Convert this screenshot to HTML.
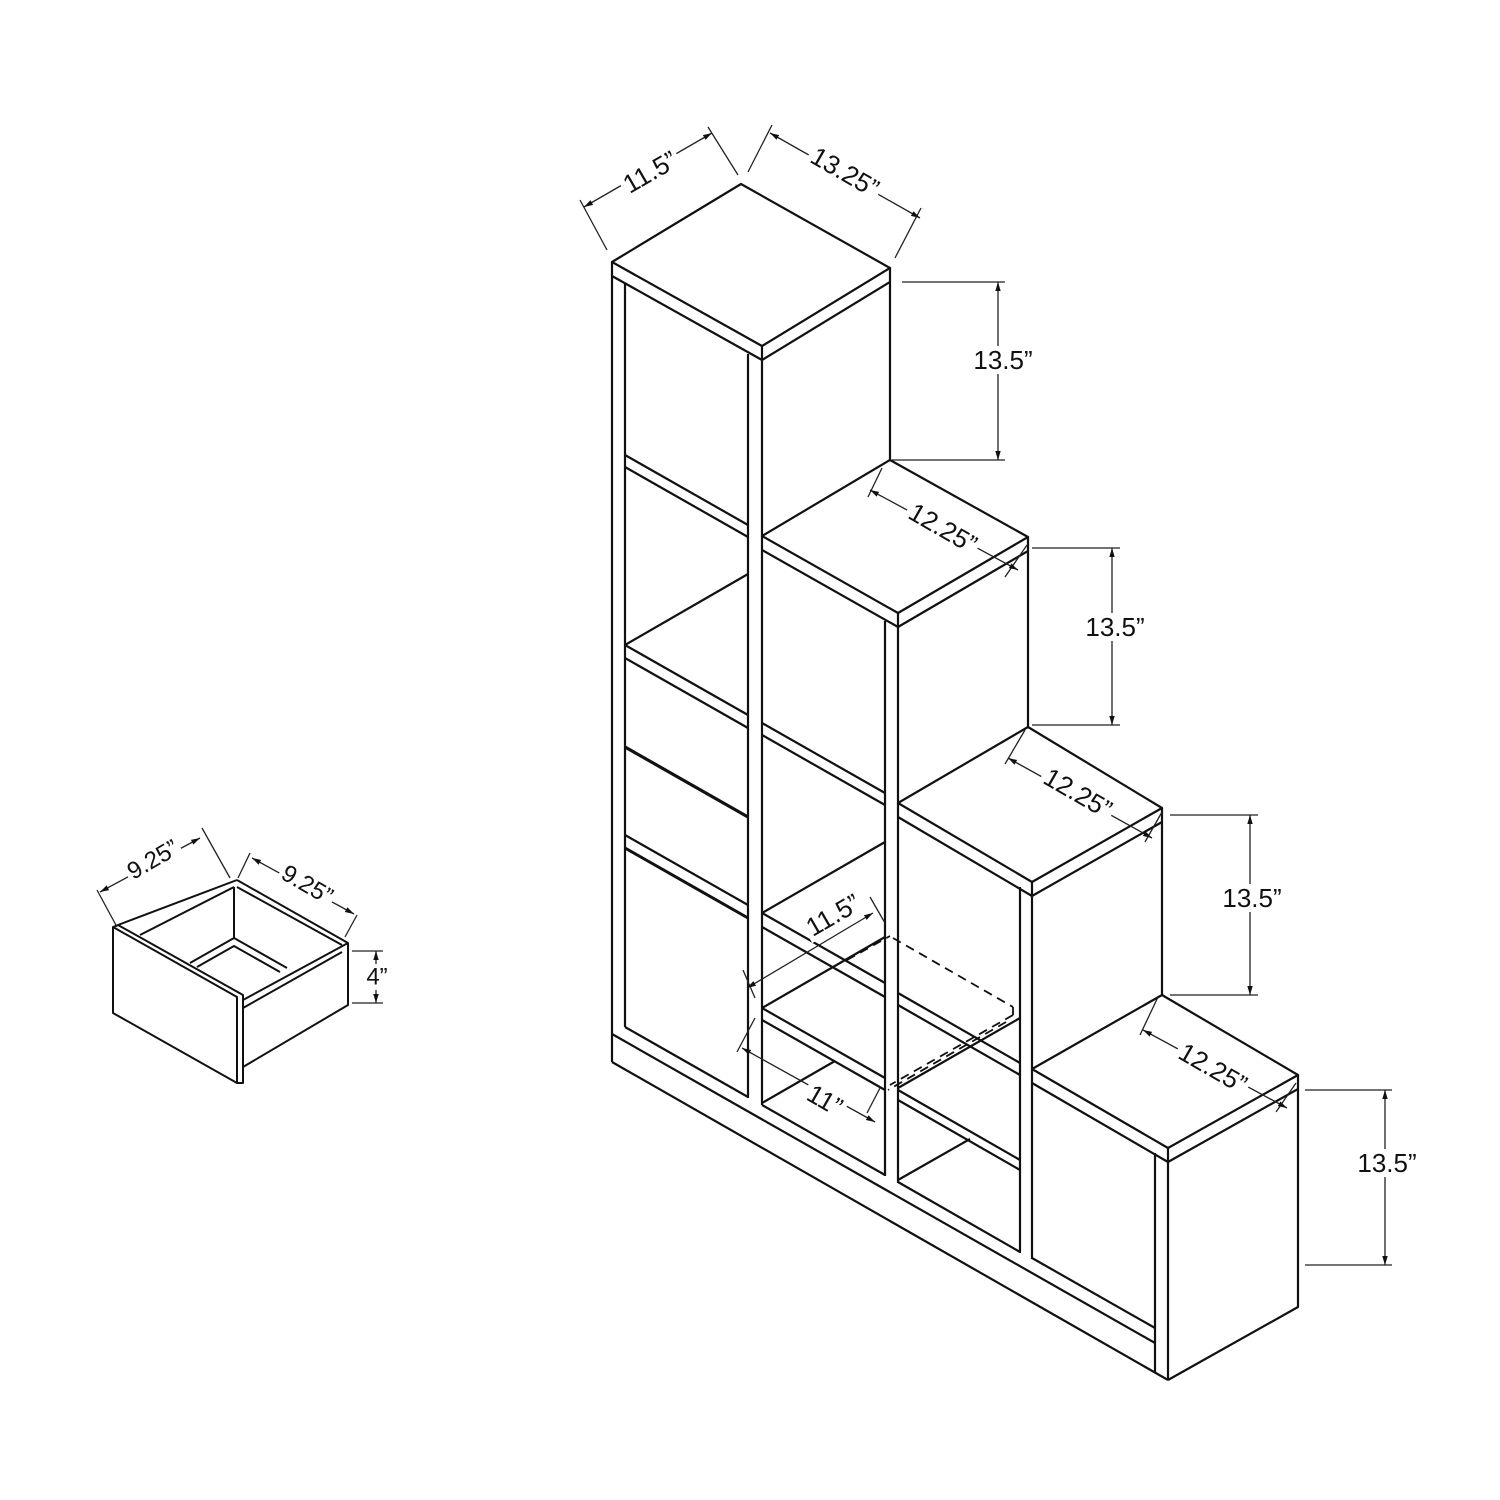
<!DOCTYPE html>
<html><head><meta charset="utf-8"><style>
html,body{margin:0;padding:0;background:#fff}
svg{display:block}
text{font-family:"Liberation Sans",Arial,sans-serif;fill:#111}
</style></head><body>
<svg width="1500" height="1500" viewBox="0 0 1500 1500" xmlns="http://www.w3.org/2000/svg">
<defs>
<marker id="a" viewBox="0 0 10 10" refX="10" refY="5" markerWidth="9" markerHeight="9" orient="auto-start-reverse" markerUnits="userSpaceOnUse"><path d="M0,2 L10,5 L0,8 z" fill="#111"/></marker>
</defs>
<rect width="1500" height="1500" fill="#fff"/>
<g fill="none" stroke="#111" stroke-width="2.2" stroke-linejoin="round">
<polygon points="612,262 741,184 890,268 762,346"/>
<polyline points="612,262 612,276 762,360 762,346"/>
<polyline points="762,360 890,282 890,268"/>
<polygon points="762,536 890,460 1028,537 898,613" fill="#fff"/>
<polyline points="762,536 762,550 898,627 898,613"/>
<polyline points="898,627 1028,551 1028,537"/>
<polygon points="898,803 1028,727 1162,808 1032,882" fill="#fff"/>
<polyline points="898,803 898,817 1032,896 1032,882"/>
<polyline points="1032,896 1162,822 1162,808"/>
<polygon points="1032,1069 1162,995 1298,1075 1168,1148" fill="#fff"/>
<polyline points="1032,1069 1032,1083 1168,1162 1168,1148"/>
<polyline points="1168,1162 1298,1089 1298,1075"/>
<line x1="890" y1="282" x2="890" y2="460"/>
<line x1="1028" y1="551" x2="1028" y2="727"/>
<line x1="1162" y1="822" x2="1162" y2="995"/>
<polyline points="1298,1089 1298,1307 1168,1380"/>
<line x1="612" y1="276" x2="612" y2="1062"/>
<line x1="625" y1="283" x2="625" y2="1027"/>
<line x1="748" y1="354" x2="748" y2="1098"/>
<line x1="762" y1="360" x2="762" y2="536"/>
<line x1="762" y1="550" x2="762" y2="1105"/>
<line x1="885" y1="621" x2="885" y2="1176"/>
<line x1="898" y1="627" x2="898" y2="803"/>
<line x1="898" y1="817" x2="898" y2="1183"/>
<line x1="1020" y1="887" x2="1020" y2="1253"/>
<line x1="1032" y1="896" x2="1032" y2="1069"/>
<line x1="1032" y1="1083" x2="1032" y2="1259"/>
<line x1="1155" y1="1153" x2="1155" y2="1372"/>
<line x1="1168" y1="1162" x2="1168" y2="1380"/>
<line x1="625" y1="455" x2="748" y2="525"/>
<line x1="625" y1="467" x2="748" y2="537"/>
<line x1="625" y1="645" x2="748" y2="715"/>
<line x1="625" y1="658" x2="748" y2="728"/>
<line x1="625" y1="747" x2="748" y2="817" stroke-width="3.2"/>
<line x1="625" y1="835" x2="748" y2="905"/>
<line x1="625" y1="848" x2="748" y2="918" stroke-width="3"/>
<line x1="625" y1="645" x2="748" y2="574"/>
<line x1="762" y1="723" x2="885" y2="793"/>
<line x1="762" y1="735" x2="885" y2="805"/>
<line x1="762" y1="913" x2="885" y2="983"/>
<line x1="762" y1="927" x2="885" y2="997"/>
<line x1="762" y1="1008" x2="885" y2="1078"/>
<line x1="762" y1="1020" x2="885" y2="1090"/>
<line x1="762" y1="913" x2="885" y2="842"/>
<line x1="762" y1="1008" x2="885" y2="937"/>
<line x1="762" y1="1103" x2="835" y2="1061"/>
<line x1="898" y1="993" x2="1020" y2="1063"/>
<line x1="898" y1="1005" x2="1020" y2="1075"/>
<line x1="898" y1="1090" x2="1020" y2="1160"/>
<line x1="898" y1="1100" x2="1020" y2="1170"/>
<line x1="898" y1="1088" x2="1020" y2="1018"/>
<line x1="898" y1="1180" x2="970" y2="1139"/>
<line x1="625" y1="1027" x2="748" y2="1097"/>
<line x1="762" y1="1105" x2="885" y2="1175"/>
<line x1="898" y1="1182" x2="1020" y2="1252"/>
<line x1="1032" y1="1258" x2="1155" y2="1328"/>
<line x1="612" y1="1034" x2="1155" y2="1343"/>
<line x1="612" y1="1062" x2="1168" y2="1380"/>
<g stroke-dasharray="9,6" stroke-width="1.8">
<line x1="847" y1="960" x2="890" y2="936"/>
<line x1="893" y1="938" x2="1013" y2="1007"/>
<line x1="1013" y1="1007" x2="1013" y2="1015"/>
<line x1="1013" y1="1015" x2="890" y2="1085"/>
<line x1="1006" y1="1022" x2="888" y2="1090"/>
</g>
</g>
<g stroke="#222" stroke-width="1.3" fill="none">
<line x1="580" y1="200" x2="607" y2="250"/><line x1="708" y1="127" x2="738" y2="175"/>
<line x1="584" y1="207" x2="712" y2="133" marker-start="url(#a)" marker-end="url(#a)"/>
<line x1="772" y1="125" x2="748" y2="172"/><line x1="921" y1="208" x2="895" y2="258"/>
<line x1="770" y1="133" x2="920" y2="218" marker-start="url(#a)" marker-end="url(#a)"/>
<line x1="902" y1="282" x2="1005" y2="282"/><line x1="892" y1="460" x2="1005" y2="460"/>
<line x1="998" y1="282" x2="998" y2="460" marker-start="url(#a)" marker-end="url(#a)"/>
<line x1="882" y1="468" x2="868" y2="497"/><line x1="1027" y1="545" x2="1005" y2="577"/>
<line x1="870" y1="490" x2="1018" y2="570" marker-start="url(#a)" marker-end="url(#a)"/>
<line x1="1032" y1="548" x2="1120" y2="548"/><line x1="1032" y1="725" x2="1120" y2="725"/>
<line x1="1112" y1="548" x2="1112" y2="725" marker-start="url(#a)" marker-end="url(#a)"/>
<line x1="1025" y1="730" x2="1005" y2="764"/><line x1="1162" y1="812" x2="1145" y2="842"/>
<line x1="1008" y1="758" x2="1152" y2="838" marker-start="url(#a)" marker-end="url(#a)"/>
<line x1="1170" y1="815" x2="1258" y2="815"/><line x1="1170" y1="995" x2="1258" y2="995"/>
<line x1="1250" y1="815" x2="1250" y2="995" marker-start="url(#a)" marker-end="url(#a)"/>
<line x1="1158" y1="997" x2="1140" y2="1035"/><line x1="1296" y1="1083" x2="1276" y2="1112"/>
<line x1="1143" y1="1030" x2="1287" y2="1108" marker-start="url(#a)" marker-end="url(#a)"/>
<line x1="1305" y1="1090" x2="1392" y2="1090"/><line x1="1305" y1="1265" x2="1392" y2="1265"/>
<line x1="1385" y1="1090" x2="1385" y2="1265" marker-start="url(#a)" marker-end="url(#a)"/>
<line x1="870" y1="897" x2="885" y2="923"/><line x1="743" y1="970" x2="755" y2="998"/>
<line x1="747" y1="988" x2="873" y2="913" marker-start="url(#a)" marker-end="url(#a)"/>
<line x1="755" y1="1018" x2="737" y2="1052"/><line x1="880" y1="1088" x2="867" y2="1113"/>
<line x1="742" y1="1048" x2="875" y2="1122" marker-start="url(#a)" marker-end="url(#a)"/>
</g>
<g font-size="26" text-anchor="middle" dominant-baseline="central">
<g transform="translate(650,172) rotate(-30)"><rect x="-32" y="-14" width="64" height="28" fill="#fff"/><text>11.5”</text></g>
<g transform="translate(845,172) rotate(30)"><rect x="-40" y="-14" width="80" height="28" fill="#fff"/><text>13.25”</text></g>
<g transform="translate(1003,360)"><rect x="-32" y="-14" width="64" height="28" fill="#fff"/><text>13.5”</text></g>
<g transform="translate(943,528) rotate(30)"><rect x="-40" y="-14" width="80" height="28" fill="#fff"/><text>12.25”</text></g>
<g transform="translate(1115,627)"><rect x="-32" y="-14" width="64" height="28" fill="#fff"/><text>13.5”</text></g>
<g transform="translate(1078,793) rotate(30)"><rect x="-40" y="-14" width="80" height="28" fill="#fff"/><text>12.25”</text></g>
<g transform="translate(1252,898)"><rect x="-32" y="-14" width="64" height="28" fill="#fff"/><text>13.5”</text></g>
<g transform="translate(1213,1068) rotate(30)"><rect x="-40" y="-14" width="80" height="28" fill="#fff"/><text>12.25”</text></g>
<g transform="translate(1387,1163)"><rect x="-32" y="-14" width="64" height="28" fill="#fff"/><text>13.5”</text></g>
<g transform="translate(833,915) rotate(-30)"><rect x="-32" y="-14" width="64" height="28" fill="#fff"/><text>11.5”</text></g>
<g transform="translate(825,1100) rotate(30)"><rect x="-22" y="-14" width="44" height="28" fill="#fff"/><text>11”</text></g>
</g>
<!-- small drawer -->
<g fill="none" stroke="#111" stroke-width="2" stroke-linejoin="round">
<polyline points="237,880 348,943 348,1005 243,1067"/>
<line x1="118" y1="925" x2="237" y2="880"/>
<line x1="140" y1="935" x2="234" y2="887"/>
<line x1="237" y1="887" x2="342" y2="945"/>
<line x1="234" y1="887" x2="234" y2="938"/>
<polyline points="190,963 234,938 287,968"/>
<polyline points="197,967 234,946 280,972"/>
<line x1="243" y1="1000" x2="348" y2="943"/>
<line x1="243" y1="1008" x2="342" y2="952"/>
<polygon points="113,927 118,925 243,995 243,1083 237,1083 237,997" fill="#fff"/>
<polyline points="113,927 113,1013 237,1083"/>
<line x1="237" y1="997" x2="237" y2="1083"/>
</g>
<g stroke="#222" stroke-width="1.3" fill="none">
<line x1="97" y1="890" x2="117" y2="927"/><line x1="202" y1="828" x2="230" y2="878"/>
<line x1="100" y1="892" x2="200" y2="838" marker-start="url(#a)" marker-end="url(#a)"/>
<line x1="250" y1="853" x2="238" y2="878"/><line x1="357" y1="915" x2="345" y2="937"/>
<line x1="252" y1="858" x2="354" y2="914" marker-start="url(#a)" marker-end="url(#a)"/>
<line x1="352" y1="951" x2="383" y2="951"/><line x1="352" y1="1003" x2="383" y2="1003"/>
<line x1="376" y1="951" x2="376" y2="1003" marker-start="url(#a)" marker-end="url(#a)"/>
</g>
<g font-size="24" text-anchor="middle" dominant-baseline="central">
<g transform="translate(153,860) rotate(-30)"><rect x="-30" y="-13" width="60" height="26" fill="#fff"/><text>9.25”</text></g>
<g transform="translate(307,885) rotate(30)"><rect x="-30" y="-13" width="60" height="26" fill="#fff"/><text>9.25”</text></g>
<g transform="translate(377,977)"><rect x="-14" y="-13" width="28" height="26" fill="#fff"/><text>4”</text></g>
</g>
</svg>
</body></html>
